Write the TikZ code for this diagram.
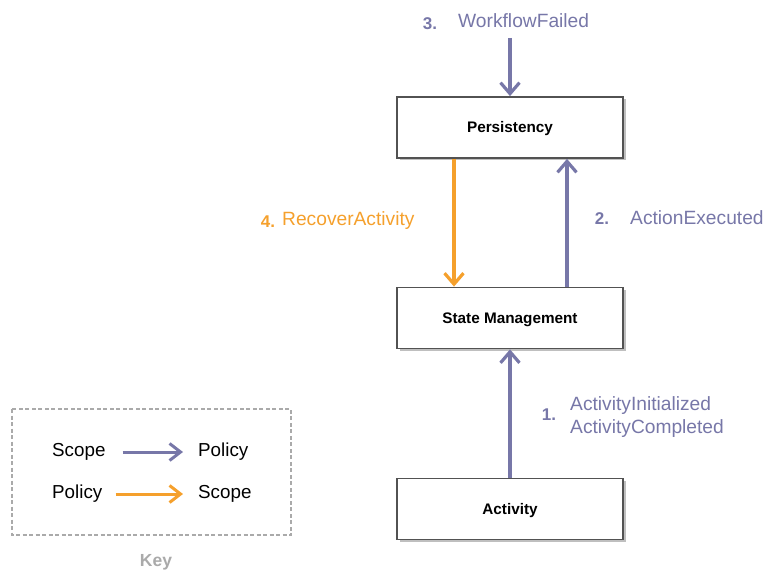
\documentclass[tikz,border=0pt]{standalone}
\usepackage{fontspec}
\setmainfont{Liberation Sans}
\usetikzlibrary{arrows.meta,shadows}
\definecolor{purp}{HTML}{7777A8}
\definecolor{orng}{HTML}{F5A02C}
\definecolor{keygray}{HTML}{AAAAAA}
\tikzset{
  block/.style={draw=black!68,line width=1.8pt,fill=white,minimum width=226pt,minimum height=61pt,
    text height=14pt,text depth=3pt,
    font=\fontsize{15.3}{18}\selectfont\bfseries,drop shadow={shadow xshift=2.5pt,shadow yshift=-2.5pt,opacity=0.5}},
  flow/.style={line width=3.2pt,-{Straight Barb[length=11pt,width=19pt,line width=3.2pt]}},
  keyflow/.style={line width=3pt,-{Straight Barb[length=11pt,width=17pt,line width=3pt]}},
  evt/.style={font=\fontsize{19.2}{23}\selectfont,text=purp,inner sep=0pt},
  num/.style={font=\fontsize{17}{20}\selectfont\bfseries,inner sep=0pt},
  keytxt/.style={font=\fontsize{18.8}{22}\selectfont,anchor=west,inner sep=0pt}
}
\begin{document}
\begin{tikzpicture}[x=1pt,y=-1pt]
  \useasboundingbox (0,0) rectangle (767,572);
  % blocks
  \node[block] (pers) at (510,127.5) {Persistency};
  \node[block] (state) at (510,318) {State Management};
  \node[block] (act) at (510,509) {Activity};
  % flows
  \coordinate (wftop) at (510,38);
  \draw[flow,purp] (wftop) -- (pers.north);
  \draw[flow,purp] ([xshift=57pt]state.north) -- ([xshift=57pt]pers.south);
  \draw[flow,orng] ([xshift=-56pt]pers.south) -- ([xshift=-56pt]state.north);
  \draw[flow,purp] (act.north) -- (state.south);
  % event labels
  \node[num,text=purp] (n3) at (430,24) {3.};
  \node[evt,anchor=west] (wf) at (458,21) {WorkflowFailed};
  \node[num,text=purp] (n2) at (602,219) {2.};
  \node[evt,anchor=west] (ae) at (630,218) {ActionExecuted};
  \node[num,text=purp] (n1) at (549,415) {1.};
  \node[evt,anchor=west,align=left] (ai) at (570,417.5) {ActivityInitialized\\ActivityCompleted};
  \node[num,text=orng] (n4) at (268,222) {4.};
  \node[evt,text=orng,anchor=west] (ra) at (282,221) {RecoverActivity};
  % key
  \draw[keygray,line width=1.4pt,dash pattern=on 4pt off 2.5pt] (12,409) rectangle (291,535);
  \node[keytxt] (ks1) at (52,452) {Scope};
  \node[keytxt] (kp1) at (198,452) {Policy};
  \node[keytxt] (kp2) at (52,494) {Policy};
  \node[keytxt] (ks2) at (198,494) {Scope};
  \draw[keyflow,purp] ([xshift=17pt]ks1.east) -- ([xshift=-15pt]kp1.west);
  \draw[keyflow,orng] ([xshift=13pt]kp2.east) -- ([xshift=-15pt]ks2.west);
  \node[font=\fontsize{17.5}{20}\selectfont\bfseries,text=keygray] (key) at (156,562) {Key};
\end{tikzpicture}
\end{document}
